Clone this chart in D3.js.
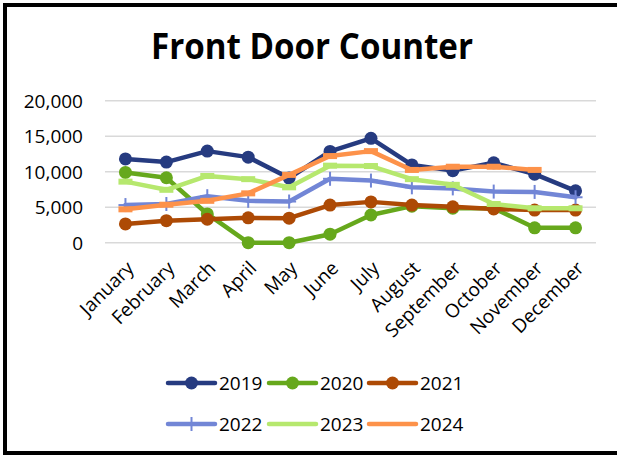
<!DOCTYPE html>
<html>
<head>
<meta charset="utf-8">
<script src="https://cdn.jsdelivr.net/npm/d3@7"></script>
<style>
  body { margin: 0; background: #fff; }
  text { font-family: "Open Sans", sans-serif; fill: #000; }
</style>
</head>
<body>
<svg id="chart" width="617" height="455"></svg>
<script>
// Front Door Counter - monthly counts by year

var months = ['January', 'February', 'March', 'April', 'May', 'June', 'July',
              'August', 'September', 'October', 'November', 'December'];
var yTicks = [0, 5000, 10000, 15000, 20000];

var v2019 = [11800, 11350, 12900, 12050, 9100, 12850, 14700, 10950, 10150, 11250, 9650, 7300];
var v2020 = [9900, 9150, 4050, 0, 0, 1200, 3900, 5150, 4850, 4850, 2100, 2100];
var v2021 = [2650, 3100, 3300, 3500, 3450, 5300, 5750, 5300, 5050, 4750, 4600, 4600];
var v2022 = [5300, 5450, 6550, 5900, 5800, 9000, 8750, 7800, 7650, 7200, 7150, 6400];
var v2023 = [8600, 7450, 9400, 8950, 7800, 10850, 10800, 8950, 8150, 5450, 4850, 4850];
var v2024 = [4700, 5350, 5900, 6950, 9550, 12200, 12900, 10250, 10700, 10700, 10250, null];

// one entry per series: name, values, colour, marker type
var series = [
  { name: '2019', values: v2019, color: '#263b80', marker: 'circle' },
  { name: '2020', values: v2020, color: '#66a81c', marker: 'circle' },
  { name: '2021', values: v2021, color: '#ad4a05', marker: 'circle' },
  { name: '2022', values: v2022, color: '#7286d6', marker: 'plus' },
  { name: '2023', values: v2023, color: '#b6e86e', marker: 'dash' },
  { name: '2024', values: v2024, color: '#fd924a', marker: 'dash' }
];

var svg = d3.select('#chart');

// outer frame (right side runs off the picture)
svg.append('rect')
  .attr('x', 5).attr('y', 5)
  .attr('width', 640).attr('height', 448)
  .attr('fill', '#fff')
  .attr('stroke', '#000')
  .attr('stroke-width', 4);

// title
svg.append('text')
  .attr('x', 151).attr('y', 59)
  .attr('font-size', 36)
  .attr('font-weight', 'bold')
  .attr('textLength', 322)
  .attr('lengthAdjust', 'spacingAndGlyphs')
  .text('Front Door Counter');

var x = d3.scaleBand().domain(months).range([105, 596]);
var y = d3.scaleLinear().domain([0, 20000]).range([242.7, 100.7]);
var cx = function(m) { return x(m) + x.bandwidth() / 2; };

// gridlines
svg.append('g').selectAll('line')
  .data(yTicks)
  .enter().append('line')
    .attr('x1', 105).attr('x2', 596)
    .attr('y1', function(d) { return y(d); })
    .attr('y2', function(d) { return y(d); })
    .attr('stroke', '#d9d9d9')
    .attr('stroke-width', 1.5);

// y axis labels
var yAxis = d3.axisLeft(y).tickValues(yTicks).tickSize(0).tickPadding(0)
  .tickFormat(d3.format(','));
var gy = svg.append('g').attr('transform', 'translate(83,0)').call(yAxis);
gy.select('.domain').remove();
gy.selectAll('text')
  .attr('font-family', '"Open Sans", sans-serif')
  .attr('font-size', 19)
  .attr('fill', '#000')
  .attr('dy', '0.35em');

// x axis labels, rotated
var xAxis = d3.axisBottom(x).tickSize(0).tickPadding(0);
var gx = svg.append('g').attr('transform', 'translate(0,260)').call(xAxis);
gx.select('.domain').remove();
gx.selectAll('text')
  .attr('font-family', '"Open Sans", sans-serif')
  .attr('font-size', 19)
  .attr('fill', '#000')
  .attr('text-anchor', 'end')
  .attr('dy', '0.7em')
  .attr('transform', 'translate(0,0) rotate(-45)');

var line = d3.line()
  .defined(function(d) { return d.v != null; })
  .x(function(d) { return cx(d.m); })
  .y(function(d) { return y(d.v); });

function drawMarker(g, type, color, px, py) {
  if (type == 'circle') {
    g.append('circle').attr('cx', px).attr('cy', py).attr('r', 6.5).attr('fill', color);
  } else if (type == 'plus') {
    g.append('line').attr('x1', px).attr('x2', px).attr('y1', py - 7).attr('y2', py + 7)
      .attr('stroke', color).attr('stroke-width', 2);
    g.append('line').attr('x1', px - 7).attr('x2', px + 7).attr('y1', py).attr('y2', py)
      .attr('stroke', color).attr('stroke-width', 2);
  } else if (type == 'dash') {
    g.append('rect').attr('x', px - 7).attr('y', py - 3).attr('width', 14).attr('height', 6)
      .attr('fill', color);
  }
}

// series lines and markers, drawn in series order
series.forEach(function(s) {
  var pts = months.map(function(m, i) { return { m: m, v: s.values[i] }; });
  var g = svg.append('g');
  g.append('path')
    .datum(pts)
    .attr('d', line)
    .attr('fill', 'none')
    .attr('stroke', s.color)
    .attr('stroke-width', 4.5)
    .attr('stroke-linejoin', 'round')
    .attr('stroke-linecap', 'round');
  pts.filter(function(d) { return d.v != null; }).forEach(function(d) {
    drawMarker(g, s.marker, s.color, cx(d.m), y(d.v));
  });
});

// legend, two rows of three
var legX = [168, 269, 369];
var legY = [383, 424];
var leg = svg.append('g');
series.forEach(function(s, i) {
  var lx = legX[i % 3], ly = legY[Math.floor(i / 3)];
  leg.append('line')
    .attr('x1', lx).attr('x2', lx + 47)
    .attr('y1', ly).attr('y2', ly)
    .attr('stroke', s.color)
    .attr('stroke-width', 4.5)
    .attr('stroke-linecap', 'round');
  if (s.marker != 'dash') drawMarker(leg, s.marker, s.color, lx + 23.5, ly);
  leg.append('text')
    .attr('x', lx + 51).attr('y', ly)
    .attr('dy', '0.35em')
    .attr('font-size', 19)
    .text(s.name);
});
</script>
</body>
</html>
